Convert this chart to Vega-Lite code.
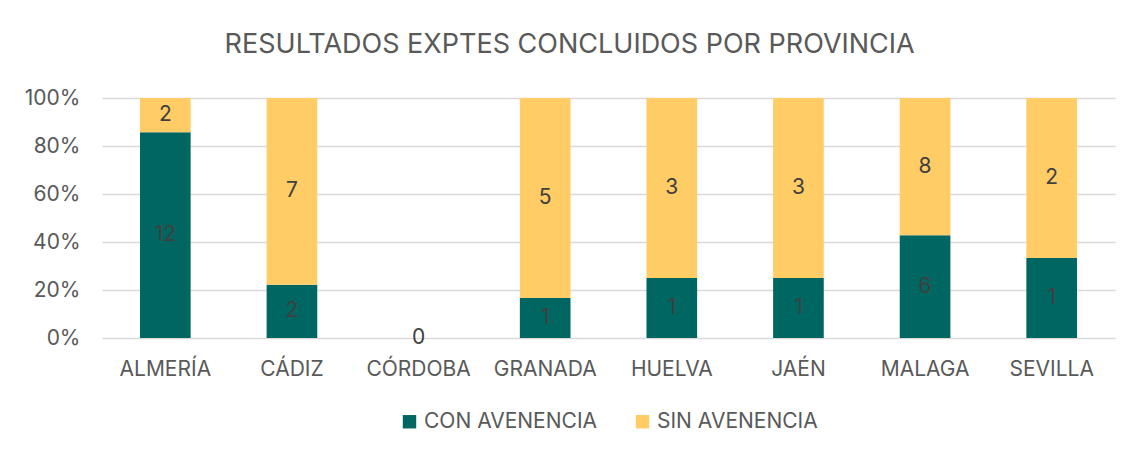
{
  "$schema": "https://vega.github.io/schema/vega-lite/v6.json",
  "width": 1137,
  "height": 457,
  "autosize": {"type": "fit", "contains": "padding"},
  "padding": {"left": 24, "right": 22, "top": 31, "bottom": 25},
  "background": "white",
  "title": {
    "text": "RESULTADOS EXPTES CONCLUIDOS POR PROVINCIA",
    "font": "Inter",
    "fontSize": 27,
    "fontWeight": "normal",
    "color": "#595959",
    "anchor": "middle",
    "frame": "bounds",
    "offset": 28
  },
  "data": {
    "values": [
      {"provincia": "ALMERÍA", "resultado": "CON AVENENCIA", "n": 12},
      {"provincia": "ALMERÍA", "resultado": "SIN AVENENCIA", "n": 2},
      {"provincia": "CÁDIZ", "resultado": "CON AVENENCIA", "n": 2},
      {"provincia": "CÁDIZ", "resultado": "SIN AVENENCIA", "n": 7},
      {"provincia": "CÓRDOBA", "resultado": "CON AVENENCIA", "n": 0},
      {"provincia": "CÓRDOBA", "resultado": "SIN AVENENCIA", "n": 0},
      {"provincia": "GRANADA", "resultado": "CON AVENENCIA", "n": 1},
      {"provincia": "GRANADA", "resultado": "SIN AVENENCIA", "n": 5},
      {"provincia": "HUELVA", "resultado": "CON AVENENCIA", "n": 1},
      {"provincia": "HUELVA", "resultado": "SIN AVENENCIA", "n": 3},
      {"provincia": "JAÉN", "resultado": "CON AVENENCIA", "n": 1},
      {"provincia": "JAÉN", "resultado": "SIN AVENENCIA", "n": 3},
      {"provincia": "MALAGA", "resultado": "CON AVENENCIA", "n": 6},
      {"provincia": "MALAGA", "resultado": "SIN AVENENCIA", "n": 8},
      {"provincia": "SEVILLA", "resultado": "CON AVENENCIA", "n": 1},
      {"provincia": "SEVILLA", "resultado": "SIN AVENENCIA", "n": 2}
    ]
  },
  "transform": [
    {"calculate": "datum.resultado === 'CON AVENENCIA' ? 0 : 1", "as": "orden"},
    {"stack": "n", "groupby": ["provincia"], "sort": [{"field": "orden", "order": "ascending"}], "offset": "normalize", "as": ["y0", "y1"]},
    {"calculate": "isFinite(datum.y0) && isFinite(datum.y1) ? (datum.y0 + datum.y1) / 2 : 0", "as": "ymid"},
    {"calculate": "isFinite(datum.y0) ? datum.y0 : 0", "as": "ya"},
    {"calculate": "isFinite(datum.y1) ? datum.y1 : 0", "as": "yb"}
  ],
  "encoding": {
    "x": {
      "field": "provincia",
      "type": "nominal",
      "sort": null,
      "title": null,
      "scale": {"paddingInner": 0.6, "paddingOuter": 0.3},
      "axis": {
        "labelAngle": 0,
        "labelFont": "Inter",
        "labelFontSize": 21,
        "labelColor": "#595959",
        "labelPadding": 20,
        "labelOverlap": false,
        "ticks": false,
        "domain": false,
        "grid": false
      }
    }
  },
  "layer": [
    {
      "mark": {"type": "bar"},
      "encoding": {
        "y": {
          "field": "ya",
          "type": "quantitative",
          "title": null,
          "scale": {"domain": [0, 1]},
          "axis": {
            "format": ".0%",
            "values": [0, 0.2, 0.4, 0.6, 0.8, 1],
            "labelFont": "Inter",
            "labelFontSize": 21,
            "labelColor": "#595959",
            "labelPadding": 22,
            "labelOverlap": false,
            "ticks": false,
            "domain": false,
            "gridColor": "#D9D9D9",
            "gridWidth": 1.3
          }
        },
        "y2": {"field": "yb"},
        "color": {
          "field": "resultado",
          "type": "nominal",
          "scale": {"domain": ["CON AVENENCIA", "SIN AVENENCIA"], "range": ["#006661", "#FFCC66"]},
          "legend": {
            "title": null,
            "orient": "bottom",
            "direction": "horizontal",
            "symbolType": "square",
            "symbolSize": 180,
            "symbolStrokeWidth": 0,
            "labelFont": "Inter",
            "labelFontSize": 21,
            "labelColor": "#595959",
            "labelLimit": 400,
            "columnPadding": 34,
            "offset": 32
          }
        }
      }
    },
    {
      "transform": [{"filter": "!(datum.n === 0 && datum.resultado === 'SIN AVENENCIA')"}],
      "mark": {"type": "text", "font": "Inter", "fontSize": 21, "color": "#404040", "baseline": "middle"},
      "encoding": {
        "y": {"field": "ymid", "type": "quantitative"},
        "text": {"field": "n", "type": "quantitative"}
      }
    }
  ],
  "config": {
    "view": {"stroke": null},
    "legend": {"layout": {"bottom": {"anchor": "middle"}}}
  }
}
